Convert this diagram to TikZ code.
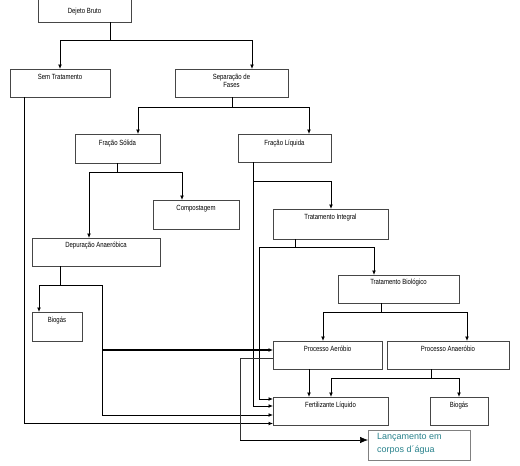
\documentclass[tikz,border=0pt]{standalone}
\usepackage{fontspec}
\setmainfont{Liberation Sans}
\newfontfamily\boxfont[FakeStretch=0.8]{Liberation Sans}
\usetikzlibrary{arrows.meta}
\definecolor{teal1}{RGB}{40,130,140}
\definecolor{bordergray}{RGB}{70,70,70}
\tikzset{
  box/.style={draw=bordergray, line width=0.8pt, rectangle, outer sep=0pt, inner sep=0pt, anchor=north west},
  lbl/.style={font=\boxfont\fontsize{7.5}{8}\selectfont, inner sep=0pt, align=center},
  conn/.style={line width=0.9pt, black},
  arr/.style={conn, -{Latex[length=4.5pt,width=4pt]}},
  thk/.style={line width=1.2pt},
  bigarr/.style={conn, -{Latex[length=8pt,width=6.5pt]}}
}
\newcommand{\bx}[5]{\node[box, minimum width={(#4-#2)*1pt}, minimum height={(#5-#3)*1pt}] (#1) at (#2,#3) {};}
\begin{document}
\begin{tikzpicture}[x=1pt,y=-1pt]
\useasboundingbox[fill=white] (0,0) rectangle (520,466);
\begin{scope}
\clip (0,0) rectangle (520,466);
% boxes
\bx{dejeto}{38}{-6}{131}{22}
\bx{sem}{10}{69}{110}{97}
\bx{sep}{175}{69}{288}{97}
\bx{fsol}{75}{134}{160}{163}
\bx{fliq}{238}{134}{331}{162}
\bx{comp}{153}{200}{239}{229}
\bx{dep}{32}{238}{160}{266}
\bx{tint}{273}{209}{388}{239}
\bx{tbio}{338}{275}{459}{303}
\bx{paer}{273}{341}{382}{369}
\bx{pana}{387}{341}{509}{369}
\bx{fert}{273}{397}{388}{425}
\bx{biogb}{430}{397}{488}{425}
\bx{bioga}{32}{312}{82}{341}
\node[box, draw=gray, minimum width=102pt, minimum height=30pt] (lanc) at (368,430) {};
% labels
\node[lbl] (tdejeto) at ([yshift=-18pt]dejeto.north) {Dejeto Bruto};
\node[lbl] (tsem) at ([yshift=-8pt]sem.north) {Sem Tratamento};
\node[lbl, align=center] (tsep) at ([yshift=-12pt]sep.north) {Separação de\\Fases};
\node[lbl] (tfsol) at ([yshift=-10pt]fsol.north) {Fração Sólida};
\node[lbl] (tfliq) at ([yshift=-10pt]fliq.north) {Fração Líquida};
\node[lbl] (tcomp) at ([yshift=-9pt]comp.north) {Compostagem};
\node[lbl] (tdep) at ([yshift=-8pt]dep.north) {Depuração Anaeróbica};
\node[lbl] (ttint) at ([yshift=-9pt]tint.north) {Tratamento Integral};
\node[lbl] (ttbio) at ([yshift=-8pt]tbio.north) {Tratamento Biológico};
\node[lbl] (tpaer) at ([yshift=-8pt]paer.north) {Processo Aeróbio};
\node[lbl] (tpana) at ([yshift=-8pt]pana.north) {Processo Anaeróbio};
\node[lbl] (tfert) at ([yshift=-9pt]fert.north) {Fertilizante Líquido};
\node[lbl] (tbiogb) at ([yshift=-9pt]biogb.north) {Biogás};
\node[lbl] (tbioga) at ([yshift=-9pt]bioga.north) {Biogás};
\node[font=\fontsize{9}{13}\selectfont, text=teal1, align=left, anchor=north west, inner sep=0pt] (tlanc) at (377,433) {Lançamento em\\corpos d´água};
% connectors
\draw[conn] (dejeto.south -| 110,0) -- (110,40) coordinate (j1);
\draw[arr] (j1) -| (sem.north -| 60,0);
\draw[arr] (j1) -| (sep.north -| 252,0);
\draw[conn] (sep.south -| 232,0) -- (232,107) coordinate (j2);
\draw[arr] (j2) -| (fsol.north -| 138,0);
\draw[arr] (j2) -| (fliq.north -| 309,0);
\draw[conn] (fsol.south -| 117,0) -- (117,172) coordinate (j3);
\draw[arr] (j3) -| (dep.north -| 89,0);
\draw[arr] (j3) -| (comp.north -| 182,0);
\draw[conn] (dep.south -| 60,0) -- (60,285) coordinate (j4);
\draw[arr] (j4) -| (bioga.north -| 39,0);
\draw[conn] (j4) -| (102,350) coordinate (j5);
\draw[arr, thk] (j5) -- (paer.west |- 0,350);
\draw[arr] (j5) |- (fert.west |- 0,415);
\draw[conn] (sem.south -| 24,0) -- (24,423.5) coordinate (j10);
\draw[arr, thk] (j10) -- (fert.west |- 0,423.5);
\draw[arr] (fliq.south -| 253,0) |- (fert.west |- 0,406);
\draw[arr] (253,181) -| (tint.north -| 331,0);
\draw[conn] (tint.south -| 295,0) -- (295,247) coordinate (j6);
\draw[arr] (j6) -| (tbio.north -| 374,0);
\draw[arr] (j6) -| (259,399) -- (fert.west |- 0,399);
\draw[conn] (tbio.south -| 381,0) -- (381,312) coordinate (j7);
\draw[arr] (j7) -| (paer.north -| 323,0);
\draw[arr] (j7) -| (pana.north -| 467,0);
\draw[conn] (pana.south -| 431,0) -- (431,378) coordinate (j8);
\draw[arr] (j8) -| (fert.north -| 331,0);
\draw[arr] (j8) -| (biogb.north -| 459,0);
\draw[arr] (paer.south -| 309,0) -- (fert.north -| 309,0);
\draw[conn, line width=0.7pt, draw=black!80] (paer.west |- 0,358) -| (240,440) coordinate (j9);
\draw[bigarr, line width=0.7pt] (j9) -- (lanc.west |- 0,440);
\end{scope}
\end{tikzpicture}
\end{document}
